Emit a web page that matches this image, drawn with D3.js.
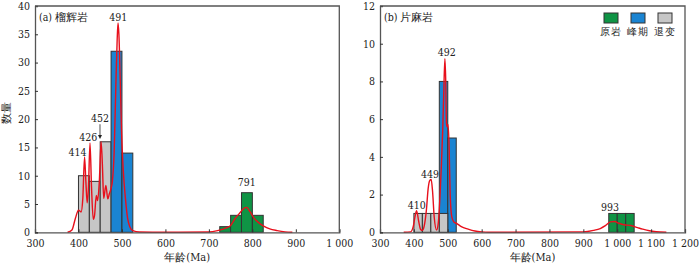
<!DOCTYPE html>
<html>
<head>
<meta charset="utf-8">
<script src="https://cdn.jsdelivr.net/npm/d3@7/dist/d3.min.js"></script>
<style>
  body { margin: 0; background: #fff; }
  svg text { fill: #222; }
</style>
</head>
<body>
<div id="chart"></div>
<script>
// ---- data: panel (a) 榴辉岩 ----
const binsA = [400, 425, 450, 475, 500, 725, 750, 775, 800]
const countsA = [10, 9, 16, 32, 14, 1, 3, 7, 3]
const groupsA = ["退变", "退变", "退变", "峰期", "峰期", "原岩", "原岩", "原岩", "原岩"]
const kdeAgeA = [375, 385, 393, 400, 406, 410, 414, 417, 420, 423, 426.5, 430, 434, 437, 441, 444, 448, 452, 455, 458, 463, 467.5, 471, 474, 478, 482, 486, 489, 491, 493, 496, 499, 503, 508, 513, 518, 525, 540, 600, 700, 720, 740, 750, 760, 772, 780, 787, 795, 803, 813, 826, 840, 857, 875, 892]
const kdeValA = [0, 0.4, 2.5, 3.9, 3.6, 6, 13.3, 9, 5.2, 8, 15.8, 8, 2.3, 3, 6.5, 5.6, 9, 16, 12, 6, 8.3, 5.9, 6.8, 7.5, 9, 14, 26, 34, 37, 35, 27, 18, 11, 6, 2.5, 1, 0.3, 0.05, 0, 0.05, 0.3, 0.8, 1.2, 2.4, 3.5, 4.2, 4.4, 3.6, 2.6, 1.8, 1.1, 0.6, 0.3, 0.08, 0]
const peakTextA = ["414", "426", "452", "491", "791"]
const peakAgeA = [398, 422.6, 449.5, 491.6, 787]
const peakValA = [13.4, 16.1, 19.5, 37.4, 8.1]
const yTicksA = [0, 5, 10, 15, 20, 25, 30, 35, 40]
const xTicksA = [300, 400, 500, 600, 700, 800, 900, 1000]

// ---- data: panel (b) 片麻岩 ----
const binsB = [475, 500, 400, 425, 450, 475, 975, 1000, 1025]
const countsB = [8, 5, 1, 1, 1, 1, 1, 1, 1]
const groupsB = ["峰期", "峰期", "退变", "退变", "退变", "退变", "原岩", "原岩", "原岩"]
const kdeAgeB = [370, 390, 398, 403, 408, 414, 420, 425, 430, 437, 442, 447, 451, 455, 460, 467, 472, 477, 481, 485, 488, 491.5, 494, 496, 498, 501, 504, 507, 512, 518, 528, 540, 560, 580, 600, 620, 900, 930, 950, 965, 980, 992, 1005, 1020, 1040, 1060, 1075, 1095, 1115, 1145]
const kdeValB = [0, 0.02, 0.3, 0.8, 1.15, 0.6, 0.15, 0.1, 0.3, 1.2, 2.3, 2.75, 2.8, 2.2, 0.8, 0.12, 0.5, 1.9, 3.5, 5.4, 7.3, 9.2, 8, 5.8, 5.6, 5.7, 4.5, 2, 0.8, 0.55, 0.45, 0.3, 0.17, 0.07, 0.02, 0, 0.02, 0.1, 0.2, 0.35, 0.55, 0.57, 0.48, 0.4, 0.36, 0.25, 0.17, 0.08, 0.03, 0]
const peakTextB = ["410", "449", "492", "993"]
const peakAgeB = [408.3, 447.5, 496.8, 978.7]
const peakValB = [1.26, 2.88, 9.35, 1.11]
const yTicksB = [0, 2, 4, 6, 8, 10, 12]
const xTicksB = [300, 400, 500, 600, 700, 800, 900, 1000, 1100, 1200]

const legendNames = ["原岩", "峰期", "退变"]
const BIN = 25

const W = 700, H = 264
const SERIF = "'DejaVu Serif Condensed', 'DejaVu Serif'"
const FS = 10.5
const colour = d3.scaleOrdinal()
    .domain(legendNames)
    .range(["#0f9445", "#1a84d2", "#c6c6c6"])

const svg = d3.select("#chart").append("svg")
    .attr("width", W)
    .attr("height", H)

const fmt = d => d >= 1000 ? Math.floor(d / 1000) + " " + String(d % 1000).padStart(3, "0") : String(d)

function panel(opt) {
    const g = svg.append("g").attr("transform", `translate(${opt.left}, ${opt.top})`)
    const w = opt.width, h = opt.height

    const x = d3.scaleLinear().domain(opt.xDomain).range([0, w])
    const y = d3.scaleLinear().domain(opt.yDomain).range([h, 0])

    // bars
    const bars = opt.bins.map((b, i) => ({age: b, n: opt.counts[i], grp: opt.groups[i]}))
    g.selectAll("rect.bar")
        .data(bars)
        .enter().append("rect")
            .attr("class", "bar")
            .attr("x", d => x(d.age))
            .attr("width", d => x(d.age + BIN) - x(d.age))
            .attr("y", d => y(d.n))
            .attr("height", d => h - y(d.n))
            .attr("fill", d => colour(d.grp))
            .attr("stroke", "#333")
            .attr("stroke-width", 1)

    // density curve
    const pts = opt.kdeAge.map((a, i) => [a, opt.kdeVal[i]])
    const line = d3.line()
        .x(d => x(d[0]))
        .y(d => y(d[1]))
        .curve(d3.curveMonotoneX)
    g.append("path")
        .datum(pts)
        .attr("d", line)
        .attr("fill", "none")
        .attr("stroke", "#e8101c")
        .attr("stroke-width", 1.4)

    // axes, ticks pointing inward
    const xAxis = d3.axisBottom(x).tickValues(opt.xTicks).tickSize(-3).tickPadding(7).tickFormat(fmt)
    const yAxis = d3.axisLeft(y).tickValues(opt.yTicks).tickSize(-3).tickPadding(5)
    const xg = g.append("g").attr("transform", `translate(0, ${h})`).call(xAxis)
    const yg = g.append("g").call(yAxis)
    ;[xg, yg].forEach(a => {
        a.attr("font-family", SERIF)
        a.select(".domain").attr("stroke", "#555").attr("stroke-width", 1.3)
        a.selectAll(".tick line").attr("stroke", "#333")
        a.selectAll(".tick text").attr("font-size", FS).attr("fill", "#222")
    })

    // frame top / right
    g.append("path")
        .attr("d", `M0,0H${w}V${h}`)
        .attr("fill", "none")
        .attr("stroke", "#555")
        .attr("stroke-width", 1.3)

    // panel title
    g.append("text")
        .attr("x", 4)
        .attr("y", 15)
        .attr("font-size", FS)
        .attr("font-family", SERIF)
        .text(opt.title)

    // peak labels
    g.selectAll("text.peak")
        .data(opt.peakText)
        .enter().append("text")
            .attr("class", "peak")
            .attr("x", (d, i) => x(opt.peakAge[i]))
            .attr("y", (d, i) => y(opt.peakVal[i]))
            .attr("text-anchor", "middle")
            .attr("font-size", FS)
            .attr("font-family", SERIF)
            .text(d => d)

    // x label
    g.append("text")
        .attr("x", w / 2)
        .attr("y", h + 29)
        .attr("text-anchor", "middle")
        .attr("font-size", FS + 0.5)
        .attr("font-family", SERIF)
        .text("年龄(Ma)")

    return {g, x, y}
}

const a = panel({
    left: 35, top: 6, width: 304.3, height: 226.3,
    xDomain: [300, 1000], yDomain: [0, 40],
    bins: binsA, counts: countsA, groups: groupsA,
    kdeAge: kdeAgeA, kdeVal: kdeValA,
    peakText: peakTextA, peakAge: peakAgeA, peakVal: peakValA,
    xTicks: xTicksA, yTicks: yTicksA,
    title: "(a)  榴辉岩"
})

// arrow for the 452 peak
a.g.append("line")
    .attr("x1", a.x(449.5)).attr("x2", a.x(449.5))
    .attr("y1", a.y(19.1)).attr("y2", a.y(16.9))
    .attr("stroke", "#222")
    .attr("stroke-width", 0.8)
a.g.append("path")
    .attr("d", `M${a.x(449.5) - 2},${a.y(17.2)}L${a.x(449.5) + 2},${a.y(17.2)}L${a.x(449.5)},${a.y(16.5)}Z`)
    .attr("fill", "#222")

// y title
svg.append("text")
    .attr("transform", "translate(10, 113) rotate(-90)")
    .attr("text-anchor", "middle")
    .attr("font-size", FS + 0.5)
    .attr("font-family", SERIF)
    .text("数量")

const b = panel({
    left: 380, top: 6, width: 305, height: 226.3,
    xDomain: [300, 1200], yDomain: [0, 12],
    bins: binsB, counts: countsB, groups: groupsB,
    kdeAge: kdeAgeB, kdeVal: kdeValB,
    peakText: peakTextB, peakAge: peakAgeB, peakVal: peakValB,
    xTicks: xTicksB, yTicks: yTicksB,
    title: "(b)  片麻岩"
})

// legend
const leg = b.g.append("g").attr("transform", "translate(224, 7)")
const item = leg.selectAll("g")
    .data(legendNames)
    .enter().append("g")
        .attr("transform", (d, i) => `translate(${i * 27}, 0)`)
item.append("rect")
    .attr("width", 14)
    .attr("height", 10)
    .attr("fill", d => colour(d))
    .attr("stroke", "#333")
item.append("text")
    .attr("x", 7)
    .attr("y", 22)
    .attr("text-anchor", "middle")
    .attr("font-size", 10)
    .attr("font-family", SERIF)
    .attr("letter-spacing", 1)
    .text(d => d)
</script>
</body>
</html>
